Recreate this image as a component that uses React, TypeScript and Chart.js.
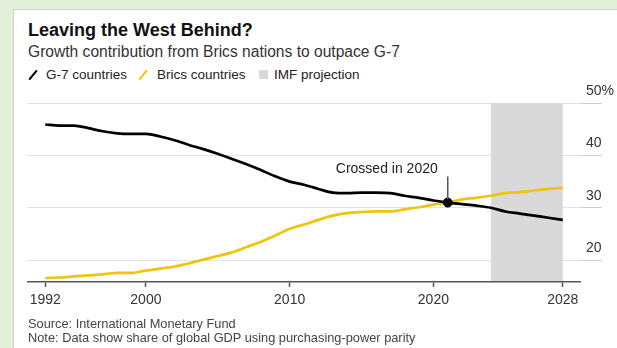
import React, { useEffect, useRef } from "react";
import { Chart, registerables } from "chart.js";

Chart.register(...registerables);

// ---- Data ----
const YEARS = [
  1992, 1993, 1994, 1995, 1996, 1997, 1998, 1999, 2000, 2001,
  2002, 2003, 2004, 2005, 2006, 2007, 2008, 2009, 2010, 2011,
  2012, 2013, 2014, 2015, 2016, 2017, 2018, 2019, 2020, 2021,
  2022, 2023, 2024, 2025, 2026, 2027, 2028,
];
const G7_SHARE = [
  45.9, 45.7, 45.7, 45.2, 44.6, 44.2, 44.1, 44.1, 43.6, 42.9,
  42.0, 41.2, 40.3, 39.3, 38.3, 37.2, 36.0, 35.0, 34.4, 33.6,
  32.9, 32.8, 32.9, 32.9, 32.8, 32.3, 31.9, 31.4, 31.0, 30.7,
  30.4, 30.0, 29.3, 28.9, 28.5, 28.1, 27.7,
];
const BRICS_SHARE = [
  16.6, 16.7, 16.9, 17.1, 17.3, 17.6, 17.6, 18.0, 18.4, 18.8,
  19.4, 20.1, 20.8, 21.5, 22.5, 23.5, 24.7, 26.0, 26.8, 27.7,
  28.5, 29.0, 29.2, 29.3, 29.3, 29.7, 30.1, 30.6, 31.0, 31.6,
  31.9, 32.3, 32.8, 33.0, 33.3, 33.6, 33.8,
];
const X_TICK_POSITIONS = [1992, 1999, 2009, 2019, 2028];
const X_TICK_LABELS = ["1992", "2000", "2010", "2020", "2028"];
const Y_TICKS = [20, 30, 40, 50];
const Y_TICK_LABELS = ["20", "30", "40", "50%"];
const PROJECTION_START = 2023;
const PROJECTION_END = 2028;
const CROSS_YEAR = 2020;
const CROSS_VALUE = 31.0;
const CROSS_LABEL = "Crossed in 2020";

const FONT = "'Liberation Sans', Arial, Helvetica, sans-serif";
const YELLOW = "#f0c30e";

const bandPlugin = {
  id: "projectionBand",
  beforeDatasetsDraw(chart: any) {
    const { ctx, scales, chartArea } = chart;
    const x = scales.x;
    const y = scales.y;
    const x0 = x.getPixelForValue(PROJECTION_START);
    const x1 = x.getPixelForValue(PROJECTION_END);
    const y0 = y.getPixelForValue(Y_TICKS[Y_TICKS.length - 1]);
    const y1 = chartArea.bottom - 1;
    ctx.save();
    ctx.fillStyle = "#d9d9d9";
    ctx.fillRect(x0, y0, x1 - x0, y1 - y0);
    ctx.restore();
  },
};

const annotationPlugin = {
  id: "crossAnnotation",
  afterDatasetsDraw(chart: any) {
    const { ctx, scales } = chart;
    const px = scales.x.getPixelForValue(CROSS_YEAR);
    const py = scales.y.getPixelForValue(CROSS_VALUE);
    ctx.save();
    ctx.strokeStyle = "#555";
    ctx.lineWidth = 1.5;
    ctx.beginPath();
    ctx.moveTo(px, py - 26);
    ctx.lineTo(px, py - 3);
    ctx.stroke();
    ctx.fillStyle = "#222";
    ctx.font = `14px ${FONT}`;
    ctx.textAlign = "right";
    ctx.textBaseline = "alphabetic";
    ctx.fillText(CROSS_LABEL, px - 10, py - 30);
    ctx.restore();
  },
};

function ChartCanvas() {
  const ref = useRef<HTMLCanvasElement | null>(null);
  useEffect(() => {
    if (!ref.current) return;
    const chart = new Chart(ref.current, {
      type: "line",
      data: {
        datasets: [
          {
            label: "Crossing",
            data: [{ x: CROSS_YEAR, y: CROSS_VALUE }],
            showLine: false,
            pointRadius: 4.5,
            pointBackgroundColor: "#000",
            pointBorderColor: "#000",
            order: 0,
          },
          {
            label: "G-7 countries",
            data: YEARS.map((yr, i) => ({ x: yr, y: G7_SHARE[i] })),
            borderColor: "#000",
            borderWidth: 2.7,
            pointRadius: 0,
            tension: 0.3,
            cubicInterpolationMode: "monotone",
            order: 1,
          },
          {
            label: "Brics countries",
            data: YEARS.map((yr, i) => ({ x: yr, y: BRICS_SHARE[i] })),
            borderColor: YELLOW,
            borderWidth: 2.7,
            pointRadius: 0,
            tension: 0.3,
            cubicInterpolationMode: "monotone",
            order: 2,
          },
        ],
      } as any,
      options: {
        animation: false,
        responsive: false,
        devicePixelRatio: 1,
        layout: { padding: { left: 28, right: 0, top: 103, bottom: 36 } },
        plugins: {
          legend: { display: false },
          tooltip: { enabled: false },
          title: { display: false },
        },
        scales: {
          x: {
            type: "linear",
            min: 1990.8,
            max: 2029.2,
            afterBuildTicks: (scale: any) => {
              scale.ticks = X_TICK_POSITIONS.map((v) => ({ value: v }));
            },
            afterFit: (scale: any) => {
              scale.height = 30;
            },
            ticks: {
              autoSkip: false,
              maxRotation: 0,
              padding: 5,
              color: "#333",
              font: { family: FONT, size: 14 },
              callback: (_v: any, i: number) => X_TICK_LABELS[i],
            },
            grid: {
              display: true,
              drawOnChartArea: false,
              drawTicks: true,
              tickLength: 5,
              tickColor: "#555",
              tickWidth: 1.5,
            },
            border: { display: true, color: "#555", width: 1.5 },
          },
          y: {
            type: "linear",
            position: "right",
            min: 15.84,
            max: 50,
            afterBuildTicks: (scale: any) => {
              scale.ticks = Y_TICKS.map((v) => ({ value: v }));
            },
            afterFit: (scale: any) => {
              scale.width = 37;
            },
            ticks: {
              padding: -16,
              labelOffset: -12,
              crossAlign: "near",
              color: "#333",
              font: { family: FONT, size: 14 },
              callback: (_v: any, i: number) => Y_TICK_LABELS[i],
            },
            grid: {
              display: true,
              color: "#e2e2e2",
              lineWidth: 1,
              drawTicks: true,
              tickLength: 22,
              tickColor: "#d0d0d0",
            },
            border: { display: false },
          },
        },
      } as any,
      plugins: [bandPlugin, annotationPlugin],
    });
    return () => chart.destroy();
  }, []);
  return (
    <canvas
      ref={ref}
      width={617}
      height={348}
      style={{ position: "absolute", left: 0, top: 0, width: 617, height: 348 }}
    />
  );
}

const abs = (left: number, top: number, size: number, extra: any = {}) => ({
  position: "absolute" as const,
  left,
  top,
  fontSize: size,
  lineHeight: 1,
  whiteSpace: "nowrap" as const,
  fontFamily: FONT,
  ...extra,
});

export default function App() {
  return (
    <div
      style={{
        position: "fixed",
        left: 0,
        top: 0,
        width: 617,
        height: 348,
        background: "#e2efd9",
        overflow: "hidden",
      }}
    >
      <div
        style={{
          position: "absolute",
          left: 13,
          top: 9,
          right: 0,
          bottom: 0,
          background: "#fff",
          borderTop: "1px solid #cdd6c6",
          borderLeft: "1px solid #cdd6c6",
        }}
      />
      <div style={abs(28, 20.5, 18, { fontWeight: 700, color: "#111" })}>
        Leaving the West Behind?
      </div>
      <div style={abs(28, 44, 15.6, { color: "#333" })}>
        Growth contribution from Brics nations to outpace G-7
      </div>
      {/* Legend */}
      <div
        style={{
          position: "absolute",
          left: 32,
          top: 68.5,
          width: 2.2,
          height: 12,
          background: "#000",
          transform: "rotate(40deg)",
        }}
      />
      <div style={abs(46, 67.5, 13.5, { color: "#222" })}>G-7 countries</div>
      <div
        style={{
          position: "absolute",
          left: 142,
          top: 68.5,
          width: 2.2,
          height: 12,
          background: YELLOW,
          transform: "rotate(40deg)",
        }}
      />
      <div style={abs(157, 67.5, 13.5, { color: "#222" })}>Brics countries</div>
      <div
        style={{
          position: "absolute",
          left: 259,
          top: 70,
          width: 9,
          height: 9,
          background: "#d9d9d9",
        }}
      />
      <div style={abs(274, 67.5, 13.5, { color: "#222" })}>IMF projection</div>
      <ChartCanvas />
      <div style={abs(28, 317.5, 12.8, { color: "#444" })}>
        Source: International Monetary Fund
      </div>
      <div style={abs(28, 331.5, 12.8, { color: "#444" })}>
        Note: Data show share of global GDP using purchasing-power parity
      </div>
    </div>
  );
}
